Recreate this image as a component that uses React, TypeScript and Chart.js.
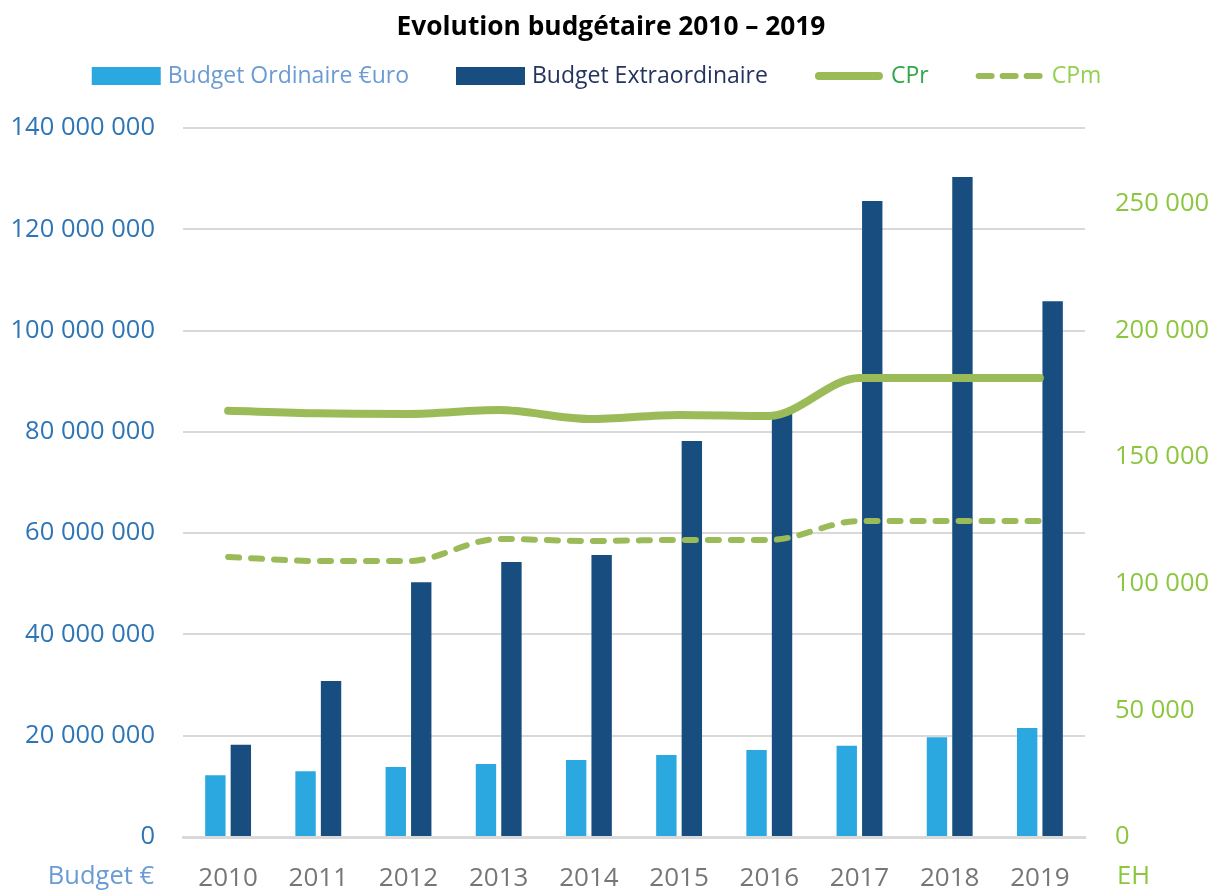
import { useEffect, useRef } from 'react';
import { Chart, registerables } from 'chart.js';

Chart.register(...registerables);

const years = ['2010', '2011', '2012', '2013', '2014', '2015', '2016', '2017', '2018', '2019'];
const budgetOrdinaire = [12.2e6, 13.0e6, 13.8e6, 14.4e6, 15.2e6, 16.2e6, 17.2e6, 18.0e6, 19.7e6, 21.5e6];
const budgetExtraordinaire = [18.2e6, 30.8e6, 50.3e6, 54.3e6, 55.7e6, 78.2e6, 83.9e6, 125.6e6, 130.3e6, 105.8e6];
const cpr = [168300, 167300, 167100, 168600, 165100, 166700, 166300, 181300, 181300, 181300];
const cpm = [110600, 109000, 109000, 117700, 116900, 117300, 117300, 124800, 124800, 124800];

const leftTicks = [0, 20000000, 40000000, 60000000, 80000000, 100000000, 120000000, 140000000];
const rightTicks = [0, 50000, 100000, 150000, 200000, 250000];
const leftMax = 140000000;
const rightMax = 280000;
const leftUnit = 'Budget €';
const rightUnit = 'EH';

const titleText = 'Evolution budgétaire 2010 – 2019';
const seriesNames = ['Budget Ordinaire €uro', 'Budget Extraordinaire', 'CPr', 'CPm'];
const legendTextColors = ['#6A9BD3', '#25335F', '#2EA84A', '#92D050'];

const FONT = '"Open Sans", "Noto Sans", sans-serif';
const C_LIGHT = '#2CA8E0';
const C_DARK = '#174E7F';
const C_GREEN = '#9BBB59';
const TICK_SIZE = 25.5;
const X_SIZE = 26;
const X_PAD = 18;

const fmt = (v: number) => String(v).replace(/\B(?=(\d{3})+(?!\d))/g, ' ');

const unitLabels = {
  id: 'unitLabels',
  afterDraw(chart: any) {
    const { ctx, scales } = chart;
    const x = scales.x;
    const yL = scales.y;
    const yR = scales.y1;
    const yPos = x.top + X_PAD + (X_SIZE * 1.2) / 2 + 6;
    ctx.save();
    ctx.font = `${TICK_SIZE}px ${FONT}`;
    ctx.textBaseline = 'middle';
    ctx.fillStyle = '#6A9BD3';
    ctx.textAlign = 'right';
    ctx.fillText(leftUnit, yL.right - 29, yPos);
    ctx.fillStyle = '#8CC63F';
    ctx.textAlign = 'left';
    ctx.fillText(rightUnit, yR.left + 32, yPos);
    ctx.restore();
  },
};

const legendRow = {
  id: 'legendRow',
  afterDraw(chart: any) {
    const { ctx } = chart;
    const ds = chart.data.datasets;
    const swatchW = 68;
    const textGap = 8;
    const itemGap = 47;
    const cy = 76;
    const cx = 596.5;
    ctx.save();
    ctx.font = `23px ${FONT}`;
    ctx.textBaseline = 'middle';
    ctx.textAlign = 'left';
    const widths = ds.map((d: any) => ctx.measureText(d.label).width);
    const total = widths.reduce((a: number, w: number) => a + swatchW + textGap + w, 0) + itemGap * (ds.length - 1);
    let x = cx - total / 2;
    ds.forEach((d: any, i: number) => {
      if (d.type === 'bar') {
        ctx.fillStyle = d.backgroundColor;
        ctx.fillRect(x, cy - 9, swatchW + 1, 18);
      } else {
        ctx.strokeStyle = d.borderColor;
        ctx.lineWidth = d.borderWidth;
        ctx.lineCap = 'round';
        ctx.setLineDash(d.borderDash ? [13, 11] : []);
        ctx.beginPath();
        const cap = d.borderWidth / 2;
        ctx.moveTo(x + cap, cy);
        ctx.lineTo(x + swatchW - cap, cy);
        ctx.stroke();
        ctx.setLineDash([]);
      }
      ctx.fillStyle = legendTextColors[i];
      ctx.fillText(d.label, x + swatchW + textGap, cy);
      x += swatchW + textGap + widths[i] + itemGap;
    });
    ctx.restore();
  },
};

export default function App() {
  const ref = useRef<HTMLCanvasElement>(null);

  useEffect(() => {
    document.body.style.margin = '0';
    const canvas = ref.current!;
    const chart = new Chart(canvas, {
      type: 'bar',
      data: {
        labels: years,
        datasets: [
          {
            type: 'bar',
            label: seriesNames[0],
            data: budgetOrdinaire,
            backgroundColor: C_LIGHT,
            yAxisID: 'y',
            order: 1,
            categoryPercentage: 0.565,
            barPercentage: 0.8,
          },
          {
            type: 'bar',
            label: seriesNames[1],
            data: budgetExtraordinaire,
            backgroundColor: C_DARK,
            yAxisID: 'y',
            order: 1,
            categoryPercentage: 0.565,
            barPercentage: 0.8,
          },
          {
            type: 'line',
            label: seriesNames[2],
            data: cpr,
            borderColor: C_GREEN,
            backgroundColor: C_GREEN,
            borderWidth: 8,
            borderCapStyle: 'round',
            borderJoinStyle: 'round',
            pointRadius: 0,
            cubicInterpolationMode: 'monotone',
            yAxisID: 'y1',
            order: 0,
          },
          {
            type: 'line',
            label: seriesNames[3],
            data: cpm,
            borderColor: C_GREEN,
            backgroundColor: C_GREEN,
            borderWidth: 6,
            borderDash: [11, 12],
            borderCapStyle: 'round',
            borderJoinStyle: 'round',
            pointRadius: 0,
            cubicInterpolationMode: 'monotone',
            yAxisID: 'y1',
            order: 0,
          },
        ],
      } as any,
      options: {
        animation: false,
        responsive: false,
        maintainAspectRatio: false,
        layout: { padding: { left: 9, right: 0, top: 0, bottom: 0 } },
        plugins: {
          title: {
            display: true,
            text: titleText,
            color: '#000000',
            font: { family: FONT, size: 26.3, weight: 'bold', lineHeight: 1.2 },
            padding: { top: 11.5, bottom: 128 - 11.5 - 26.3 * 1.2 },
          },
          legend: { display: false },
          tooltip: { enabled: false },
        },
        scales: {
          x: {
            grid: { display: false },
            border: { display: true, color: '#D9D9D9', width: 3 },
            ticks: { color: '#767676', font: { family: FONT, size: X_SIZE }, padding: X_PAD },
            afterFit: (s: any) => { s.height = 53; },
          },
          y: {
            position: 'left',
            min: 0,
            max: leftMax,
            grid: { color: '#D9D9D9', lineWidth: 2, drawTicks: false },
            border: { display: false },
            ticks: {
              color: '#2E75B6',
              font: { family: FONT, size: TICK_SIZE },
              padding: 28,
              callback: (v: any) => fmt(Number(v)),
            },
            afterBuildTicks: (s: any) => { s.ticks = leftTicks.map((value) => ({ value })); },
            afterFit: (s: any) => { s.width = 174; },
          },
          y1: {
            position: 'right',
            min: 0,
            max: rightMax,
            grid: { drawOnChartArea: false, drawTicks: false },
            border: { display: false },
            ticks: {
              color: '#8CC63F',
              font: { family: FONT, size: TICK_SIZE },
              padding: 30,
              callback: (v: any) => fmt(Number(v)),
            },
            afterBuildTicks: (s: any) => { s.ticks = rightTicks.map((value) => ({ value })); },
            afterFit: (s: any) => { s.width = 128; },
          },
        },
      } as any,
      plugins: [unitLabels, legendRow],
    });
    return () => chart.destroy();
  }, []);

  return <canvas ref={ref} width={1213} height={890} style={{ display: 'block' }} />;
}
